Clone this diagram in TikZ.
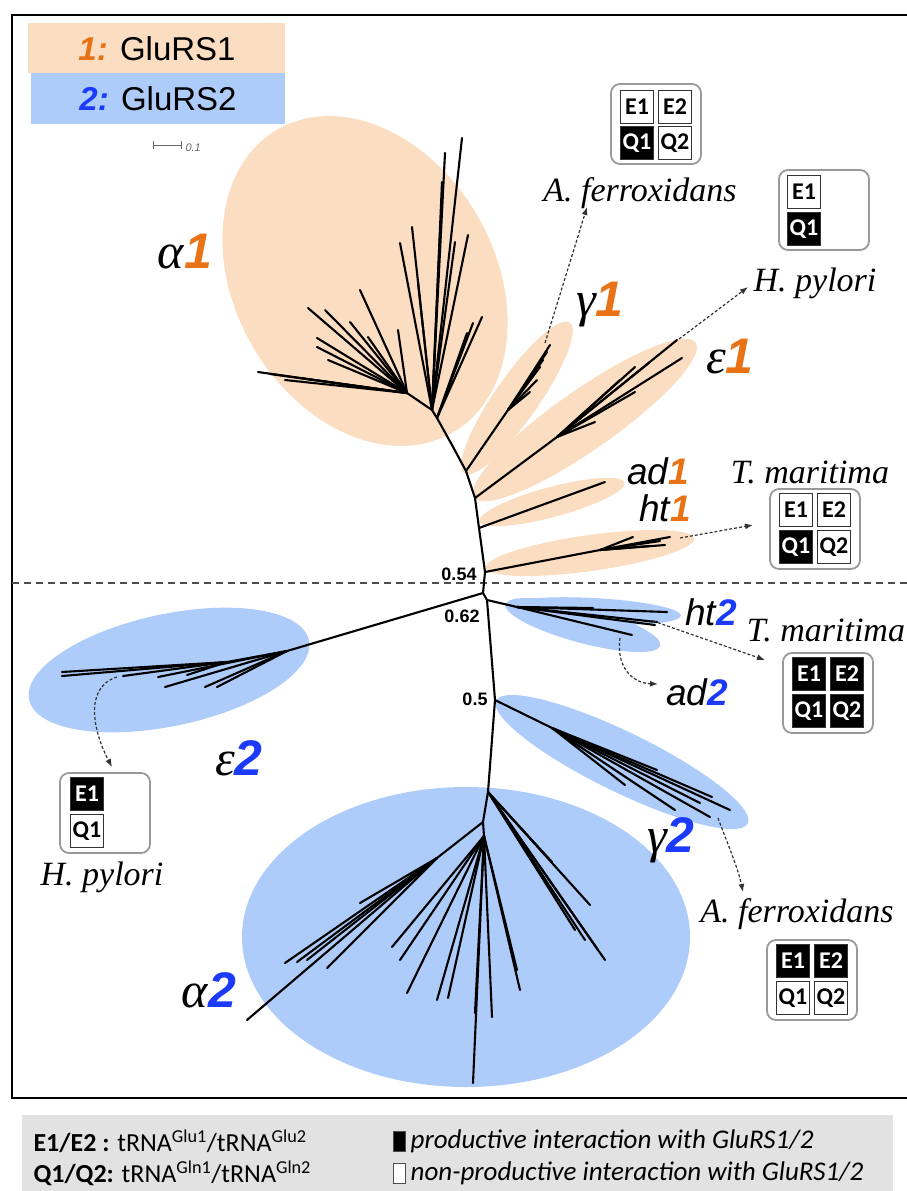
\documentclass[tikz,border=0pt]{standalone}
\usepackage{fontspec}
\setmainfont{Liberation Serif}
\newfontfamily\arialf{Liberation Sans}
\newfontfamily\calf{Carlito}
\usepackage{tikz}
\usetikzlibrary{arrows.meta}
\usetikzlibrary{positioning}
\definecolor{orfill}{RGB}{251,221,193}
\definecolor{blfill}{RGB}{174,204,250}
\definecolor{ortext}{RGB}{232,114,22}
\definecolor{bltext}{RGB}{28,58,250}
\definecolor{legfill}{RGB}{226,226,226}
\newcommand{\one}{{\arialf\bfseries\itshape\color{ortext}1}}
\newcommand{\two}{{\arialf\bfseries\itshape\color{bltext}2}}

\begin{document}
\begin{tikzpicture}[x=1pt,y=-1pt,
  br/.style={line width=2.1pt, line cap=round},
  cellw/.style={draw=black!80, line width=0.8pt, fill=white, minimum size=33pt, inner sep=0pt, font=\calf\bfseries\fontsize{24}{24}\selectfont},
  cellb/.style={cellw, fill=black, text=white},
  panel/.style={draw=black!40, line width=1.8pt, rounded corners=9pt, fill=white, minimum width=90pt, minimum height=80pt},
  spec/.style={font=\itshape\fontsize{34}{34}\selectfont},
  clade/.style={font=\itshape\fontsize{50}{50}\selectfont},
  sclade/.style={font=\arialf\itshape\fontsize{37}{37}\selectfont},
  boot/.style={font=\arialf\bfseries\fontsize{18}{18}\selectfont},
  dasharr/.style={densely dashed, line width=1.2pt, black!80, -{Latex[length=8pt,width=6pt]}}]
\useasboundingbox (0,0) rectangle (907,1191);

% clade shading
\fill[orfill, rotate around={-60:(365,281)}] (365,281) ellipse [x radius=175, y radius=130];
\fill[orfill, rotate around={55:(517,398)}] (517,398) ellipse [x radius=92, y radius=22];
\fill[orfill, rotate around={35:(585,420)}] (585,420) ellipse [x radius=135, y radius=30];
\fill[orfill, rotate around={15:(552,502)}] (552,502) ellipse [x radius=75, y radius=15];
\fill[orfill, rotate around={8:(590,553)}] (590,553) ellipse [x radius=105, y radius=18];
\fill[blfill, rotate around={-3:(593,611)}] (593,611) ellipse [x radius=88, y radius=13];
\fill[blfill, rotate around={-15:(583,625)}] (583,625) ellipse [x radius=80, y radius=18];
\fill[blfill, rotate around={-26:(622,762)}] (622,762) ellipse [x radius=140, y radius=30];
\fill[blfill, rotate around={12:(169,670)}] (169,670) ellipse [x radius=143, y radius=56];
\fill[blfill] (466,937) ellipse [x radius=224, y radius=150];

% frame and split line
\draw[line width=2.4pt] (12,15) rectangle (909,1098);
\draw[dash pattern=on 7pt off 5pt, line width=1.1pt, black!70] (12,583) -- (907,583);

% legend of the two enzymes
\fill[orfill] (28,23) rectangle (285,73);
\fill[blfill] (31,73) rectangle (285,124);
\node[font=\arialf\fontsize{33}{33}\selectfont] (leg1) at (157,49) {\one{\arialf\bfseries\itshape\color{ortext}:} GluRS1};
\node[font=\arialf\fontsize{33}{33}\selectfont] (leg2) at (158,99) {\two{\arialf\bfseries\itshape\color{bltext}:} GluRS2};
\draw[black!60, line width=0.8pt] (153,141) -- (153,149) (153,145) -- (181,145) (181,141) -- (181,149);
\node[black!60, font=\arialf\itshape\fontsize{11}{11}\selectfont, anchor=west] (scl) at (182,148) {0.1};

% backbone
\coordinate (ja1) at (437,418);
\coordinate (jg1) at (466,471);
\coordinate (je1) at (475,498);
\coordinate (jad1) at (479,528);
\coordinate (jht1) at (485,572);
\coordinate (je2) at (483,593);
\coordinate (j62) at (487,600);
\coordinate (j05) at (495,700);
\coordinate (ja2) at (488,792);
\draw[br] (ja1) -- (452,445) -- (jg1) -- (je1) -- (jad1) -- (jht1) -- (je2) -- (j62) -- (j05) -- (ja2);

% alpha1
\coordinate (a1l) at (407,393);
\coordinate (a1u) at (432,410);
\draw[br] (ja1) -- (a1u) -- (a1l);
\foreach \x/\y in {258/372, 270/374, 285/380, 300/378, 328/360, 317/347, 317/338, 308/308, 325/310, 360/290, 368/337, 398/330, 350/322}
  \draw[br] (a1l) -- (\x,\y);
\foreach \x/\y in {462/138, 445/153, 442/182, 412/227, 400/243, 418/282, 440/235, 455/242, 468/235}
  \draw[br] (a1u) -- (\x,\y);
\foreach \x/\y in {482/317, 473/323, 467/333}
  \draw[br] (ja1) -- (\x,\y);

% gamma1
\coordinate (g1s) at (508,410);
\draw[br] (jg1) -- (g1s);
\foreach \x/\y in {550/345, 547/352, 543/360, 540/367, 537/380, 530/392}
  \draw[br] (g1s) -- (\x,\y);
\coordinate (g1t) at (545,343);

% epsilon1
\coordinate (e1s) at (557,437);
\draw[br] (je1) -- (e1s);
\foreach \x/\y in {677/340, 682/358, 635/367, 635/392, 595/422, 620/380, 650/362}
  \draw[br] (e1s) -- (\x,\y);
\coordinate (e1t) at (679,339);

% ad1, ht1
\draw[br] (jad1) -- (605,482);
\coordinate (ht1s) at (600,550);
\draw[br] (jht1) -- (ht1s);
\foreach \x/\y in {670/537, 633/537, 660/541, 665/545, 650/546}
  \draw[br] (ht1s) -- (\x,\y);
\coordinate (ht1t) at (680,538);

% epsilon2
\coordinate (e2s) at (287,651);
\coordinate (e2u) at (227,662);
\draw[br] (je2) -- (e2s) -- (e2u);
\foreach \x/\y in {62/672, 62/676, 123/676, 187/675}
  \draw[br] (e2u) -- (\x,\y);
\foreach \x/\y in {158/677, 165/687, 205/687, 217/687}
  \draw[br] (e2s) -- (\x,\y);
\coordinate (e2t) at (117,677);

% ht2, ad2
\coordinate (ht2s) at (517,607);
\draw[br] (j62) -- (ht2s);
\foreach \x/\y in {667/612, 657/622, 655/625, 632/635, 593/608}
  \draw[br] (ht2s) -- (\x,\y);
\coordinate (ht2t) at (653,621);
\coordinate (ad2t) at (620,638);

% gamma2
\coordinate (g2s) at (552,728);
\draw[br] (j05) -- (g2s);
\foreach \x/\y in {657/770, 625/785, 712/797, 700/803, 730/810, 675/810, 710/817}
  \draw[br] (g2s) -- (\x,\y);
\coordinate (g2t) at (718,818);

% alpha2
\coordinate (a2c) at (483,822);
\coordinate (a2m) at (484,836);
\coordinate (a2l) at (437,858);
\draw[br] (ja2) -- (a2c) -- (a2m);
\draw[br] (a2c) -- (a2l) -- (247,1020);
\foreach \x/\y in {360/903, 285/963, 297/962, 307/960, 327/968}
  \draw[br] (a2l) -- (\x,\y);
\foreach \x/\y in {392/947, 400/960, 407/993, 437/1000, 448/998, 473/1083, 475/1013, 492/1017, 520/990, 517/970}
  \draw[br] (a2m) -- (\x,\y);
\foreach \x/\y in {552/862, 590/905, 605/960, 598/950, 585/940, 575/930}
  \draw[br] (ja2) -- (\x,\y);

% support values
\node[boot] (b54) at (459,574) {0.54};
\node[boot] (b62) at (462,616) {0.62};
\node[boot] (b50) at (475,699) {0.5};

% clade names
\node[clade] (na1) at (185,252) {α\one};
\node[clade] (ng1) at (600,305) {γ\one};
\node[clade] (ne1) at (730,357) {ε\one};
\node[sclade] (nad1) at (658,471) {ad\one};
\node[sclade] (nht1) at (665,508) {ht\one};
\node[sclade] (nht2) at (711,612) {ht\two};
\node[sclade] (nad2) at (697,692) {ad\two};
\node[clade] (ng2) at (671,840) {γ\two};
\node[clade] (ne2) at (239,758) {ε\two};
\node[clade] (na2) at (209,990) {α\two};

% species
\node[spec] (afer1) at (640,193) {A. ferroxidans};
\node[spec] (hpy1) at (815,283) {H. pylori};
\node[spec] (tma1) at (810,472) {T. maritima};
\node[spec] (tma2) at (826,630) {T. maritima};
\node[spec] (afer2) at (797,914) {A. ferroxidans};
\node[spec] (hpy2) at (102,877) {H. pylori};

% tRNA panels
\node[panel] (paf1) at (656,124) {};
\node[cellw] (paf1e1) at (637,107) {E1};
\node[cellw] (paf1e2) at (675,107) {E2};
\node[cellb] (paf1q1) at (637,143) {Q1};
\node[cellw] (paf1q2) at (675,143) {Q2};

\node[panel] (phy1) at (824,210) {};
\node[cellw] (phy1e1) at (804,192) {E1};
\node[cellb] (phy1q1) at (804,229) {Q1};

\node[panel] (ptm1) at (815,529) {};
\node[cellw] (ptm1e1) at (796,510) {E1};
\node[cellw] (ptm1e2) at (834,510) {E2};
\node[cellb] (ptm1q1) at (796,547) {Q1};
\node[cellw] (ptm1q2) at (834,547) {Q2};

\node[panel] (ptm2) at (828,693) {};
\node[cellb] (ptm2e1) at (809,674) {E1};
\node[cellb] (ptm2e2) at (847,674) {E2};
\node[cellb] (ptm2q1) at (809,711) {Q1};
\node[cellb] (ptm2q2) at (847,711) {Q2};

\node[panel] (paf2) at (812,980) {};
\node[cellb] (paf2e1) at (793,961) {E1};
\node[cellb] (paf2e2) at (831,961) {E2};
\node[cellw] (paf2q1) at (793,998) {Q1};
\node[cellw] (paf2q2) at (831,998) {Q2};

\node[panel] (phy2) at (105,813) {};
\node[cellb] (phy2e1) at (87,794) {E1};
\node[cellw] (phy2q1) at (87,831) {Q1};

% arrows to species
\coordinate (g1a) at (587,207);
\coordinate (e1a) at (748,287);
\coordinate (ht1a) at (753,525);
\coordinate (ht2a) at (765,660);
\coordinate (ad2a) at (658,684);
\coordinate (g2a) at (743,892);
\coordinate (e2a) at (112,767);
\draw[dasharr] (g1t) -- (g1a);
\draw[dasharr] (e1t) -- (e1a);
\draw[dasharr] (ht1t) -- (ht1a);
\draw[dasharr] (ht2t) -- (ht2a);
\draw[dasharr] (ad2t) .. controls (616,664) and (630,683) .. (ad2a);
\draw[dasharr] (g2t) .. controls (728,845) and (738,868) .. (g2a);
\draw[dasharr] (e2t) .. controls (82,688) and (95,735) .. (e2a);

% key
\fill[legfill] (22,1115) rectangle (893,1195);
\node[anchor=west, font=\calf\fontsize{26}{26}\selectfont] (keye) at (30,1141) {\textbf{E1/E2 :} tRNA\textsuperscript{Glu1}/tRNA\textsuperscript{Glu2}};
\node[anchor=west, font=\calf\fontsize{26}{26}\selectfont] (keyq) at (30,1173) {\textbf{Q1/Q2:} tRNA\textsuperscript{Gln1}/tRNA\textsuperscript{Gln2}};
\node[draw=black!70, fill=black, minimum width=12pt, minimum height=20pt, inner sep=0pt] (sqb) at (399,1141) {};
\node[draw=black!70, fill=white, minimum width=12pt, minimum height=20pt, inner sep=0pt] (sqw) at (399,1173) {};
\node[anchor=west, font=\calf\itshape\fontsize{27}{27}\selectfont, right=2pt of sqb] (keyp) {productive interaction with GluRS1/2};
\node[anchor=west, font=\calf\itshape\fontsize{27}{27}\selectfont, right=2pt of sqw] (keyn) {non-productive interaction with GluRS1/2};
\end{tikzpicture}
\end{document}
